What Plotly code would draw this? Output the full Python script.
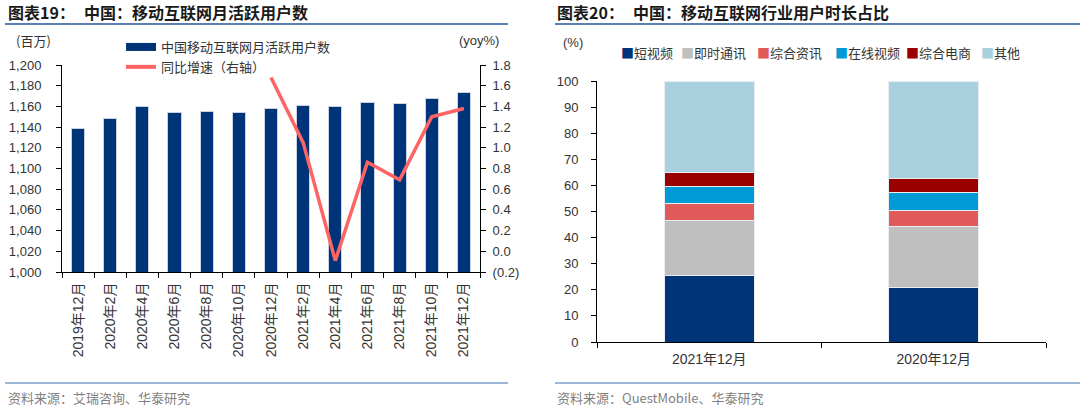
import plotly.graph_objects as go

# ---- Left chart data ----
months = ["2019年12月", "2020年2月", "2020年4月", "2020年6月", "2020年8月", "2020年10月",
          "2020年12月", "2021年2月", "2021年4月", "2021年6月", "2021年8月", "2021年10月", "2021年12月"]
mau = [1139, 1148, 1160, 1154, 1155, 1154, 1158, 1161, 1160, 1164, 1163, 1168, 1173]
yoy = [None, None, None, None, None, None, 1.68, 1.05, -0.09, 0.86, 0.69, 1.30, 1.38]

# ---- Right chart data ----
periods = ["2021年12月", "2020年12月"]
seg_names = ["短视频", "即时通讯", "综合资讯", "在线视频", "综合电商", "其他"]
seg_colors = ["#003478", "#BFBFBF", "#E05A5A", "#009AD6", "#9B0000", "#A9D0DF"]
short_video = [25.4, 20.7]
im = [21.3, 23.6]
news = [6.5, 6.2]
online_video = [6.4, 6.9]
ecommerce = [5.5, 5.1]
others = [34.9, 37.5]
seg_values = [short_video, im, news, online_video, ecommerce, others]

W, H = 1080, 409
def px(x): return x / W
def py(y): return 1 - y / H

CJK = "Noto Sans CJK SC"
LAT = "Liberation Sans, Arial, Noto Sans CJK SC"
TXT = "#333333"

fig = go.Figure()

fig.add_trace(go.Bar(x=months, y=mau, marker=dict(color="#003478", line=dict(color="#C9D3E3", width=1)),
                     width=0.41, showlegend=False, xaxis="x", yaxis="y"))
fig.add_trace(go.Scatter(x=[None], y=[None], mode="lines", name="中国移动互联网月活跃用户数",
                         line=dict(color="#003478", width=8), xaxis="x", yaxis="y", legend="legend"))
fig.add_trace(go.Scatter(x=[None], y=[None], mode="lines", name="同比增速（右轴）",
                         line=dict(color="#FF6464", width=4), xaxis="x", yaxis="y", legend="legend"))
fig.add_trace(go.Scatter(x=months, y=yoy, mode="lines", line=dict(color="#FF6464", width=3.5),
                         showlegend=False, xaxis="x", yaxis="y2", cliponaxis=False))

for name, vals, col in zip(seg_names, seg_values, seg_colors):
    fig.add_trace(go.Bar(x=periods, y=vals, name=name, marker=dict(color=col, line=dict(color="#E8EEF4", width=1)),
                         width=0.4, showlegend=False, xaxis="x3", yaxis="y3"))

def axis_style(size=13, standoff=None):
    d = dict(showgrid=False, zeroline=False, showline=True, linecolor="#000000", linewidth=1,
             ticks="outside", ticklen=5, tickcolor="#000000", automargin=False,
             tickfont=dict(family=LAT, size=size, color=TXT))
    if standoff is not None:
        d["ticklabelstandoff"] = standoff
    return d

fig.update_layout(
    width=W, height=H, autosize=False,
    margin=dict(l=0, r=0, t=0, b=0, pad=0),
    paper_bgcolor="white", plot_bgcolor="white",
    barmode="stack", bargap=0.6,
    xaxis=dict(domain=[px(62), px(480)], anchor="y", type="category", tickson="boundaries",
               tickangle=-90, range=[-0.5, 12.5], **axis_style(14, 4)),
    yaxis=dict(domain=[1 - 272 / H, 1 - 65 / H], anchor="x", range=[1000, 1200], dtick=20,
               tickformat=",d", **axis_style(13, 12)),
    yaxis2=dict(overlaying="y", anchor="x", side="right", range=[-0.2, 1.8],
                tickvals=[-0.2, 0, 0.2, 0.4, 0.6, 0.8, 1.0, 1.2, 1.4, 1.6, 1.8],
                ticktext=["(0.2)", "0.0", "0.2", "0.4", "0.6", "0.8", "1.0", "1.2", "1.4", "1.6", "1.8"],
                **axis_style(13, 4)),
    xaxis3=dict(domain=[px(597), px(1046)], anchor="y3", type="category", tickson="boundaries",
                range=[-0.5, 1.5], **axis_style(14, 4)),
    yaxis3=dict(domain=[1 - 342 / H, 1 - 81 / H], anchor="x3", range=[0, 100], dtick=10, **axis_style(13, 10)),
    legend=dict(x=px(121), y=py(32), xanchor="left", yanchor="top", orientation="v",
                traceorder="normal",
                font=dict(family=CJK, size=13, color=TXT), bgcolor="rgba(0,0,0,0)",
                itemwidth=30, tracegroupgap=0),
)

ann = []
def add_text(x, y, text, size=13, color=TXT, family=CJK, xanchor="left"):
    ann.append(dict(x=px(x), y=py(y), xref="paper", yref="paper", text=text, showarrow=False,
                    xanchor=xanchor, yanchor="middle", font=dict(family=family, size=size, color=color)))

add_text(6, 12, "<b>图表19：</b>", size=16, color="#1A1A1A")
add_text(82, 12, "<b>中国：移动互联网月活跃用户数</b>", size=16, color="#1A1A1A")
add_text(555, 12, "<b>图表20：</b>", size=16, color="#1A1A1A")
add_text(631, 12, "<b>中国：移动互联网行业用户时长占比</b>", size=16, color="#1A1A1A")
add_text(14, 40, "(百万)", size=13)
add_text(457, 40, "(yoy%)", size=13, family=LAT)
add_text(561, 43, "(%)", size=13, family=LAT)
add_text(6, 397, "资料来源：艾瑞咨询、华泰研究", size=13, color="#7F7F7F")
add_text(555, 397, "资料来源：QuestMobile、华泰研究", size=13, color="#7F7F7F")

leg_x = [619, 679, 755, 833, 904, 979]
for xx, name, col in zip(leg_x, seg_names, seg_colors):
    add_text(xx, 52, f"<span style='color:{col}'>■</span>{name}", size=13)

fig.update_layout(annotations=ann)

shapes = []
for x0, x1 in [(5, 508), (555, 1080)]:
    shapes.append(dict(type="line", xref="paper", yref="paper", x0=px(x0), x1=px(x1), y0=py(24), y1=py(24),
                       line=dict(color="#5A7FB5", width=2)))
    shapes.append(dict(type="line", xref="paper", yref="paper", x0=px(x0), x1=px(x1), y0=py(383), y1=py(383),
                       line=dict(color="#7C9CCB", width=1.5)))
fig.update_layout(shapes=shapes)

fig.write_html("out.html", config={"displayModeBar": False},
               post_script="document.body.style.margin='0';document.body.style.overflow='hidden';")
